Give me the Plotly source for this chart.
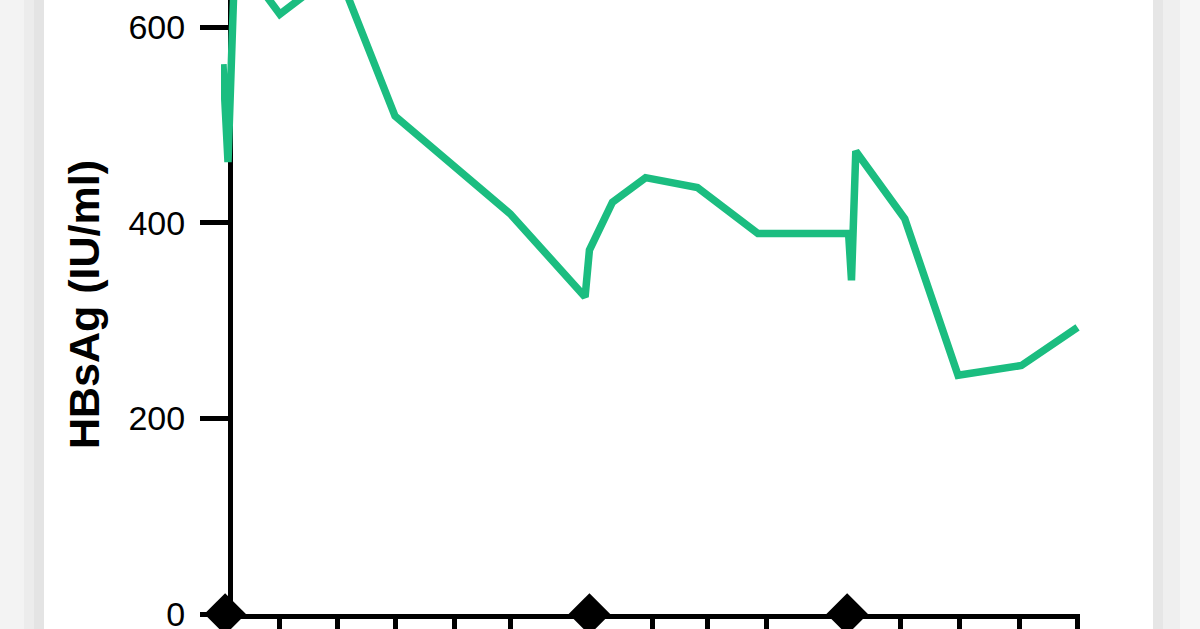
import plotly.graph_objects as go

# --- data (weeks from baseline, HBsAg in IU/ml) ---
weeks = [-0.35, 0.0, 0.49, 3.6, 7.6, 11.6, 19.6, 24.8, 25.1, 26.7, 29.0,
         32.6, 36.8, 43.1, 43.3, 43.6, 47.0, 50.7, 55.1, 59.0]
hbsag = [562, 462, 675, 613, 658, 509, 409, 324, 372, 421, 446,
         436, 389, 389, 341, 473, 404, 244, 254, 293]

# treatment markers on the time axis
dose_weeks = [-0.2, 25.1, 43.0]
dose_level = [0, 0, 0]

tick_weeks = [3.6, 7.6, 11.6, 15.7, 19.6, 29.5, 33.3, 37.4, 46.7, 50.8, 55.0, 59.0]
y_ticks = [0, 200, 400, 600]

W, H = 1200, 629
ML, MR, MT, MB = 221, 120, 0, 15
plot_w = W - ML - MR


def px_to_paper(px):
    return (px - ML) / plot_w


fig = go.Figure()

fig.add_trace(go.Scatter(
    x=weeks, y=hbsag, mode="lines",
    line=dict(color="#1bbd80", width=7.5),
    hoverinfo="skip",
))

fig.add_trace(go.Scatter(
    x=dose_weeks, y=dose_level, mode="markers",
    marker=dict(symbol="diamond", size=32, color="black"),
    cliponaxis=False, hoverinfo="skip",
))

# grey page edges
shapes = []
for x0, x1, col in [(0, 24, "#f3f3f3"), (24, 34, "#ececec"), (34, 44, "#e4e4e4"),
                    (1153, 1163, "#e6e6e6"), (1163, 1180, "#efefef"), (1180, 1200, "#f6f6f6")]:
    shapes.append(dict(type="rect", xref="paper", yref="paper",
                       x0=px_to_paper(x0), x1=px_to_paper(x1), y0=-0.1, y1=1.1,
                       fillcolor=col, line=dict(width=0), layer="below"))

fig.update_layout(
    width=W, height=H,
    margin=dict(l=ML, r=MR, t=MT, b=MB),
    paper_bgcolor="white", plot_bgcolor="white",
    showlegend=False,
    shapes=shapes,
    font=dict(family="Liberation Sans, Arial, sans-serif", color="black"),
    xaxis=dict(
        range=[-0.486, 59.17], automargin=False,
        showgrid=False, zeroline=False,
        showline=True, linecolor="black", linewidth=5,
        ticks="outside", ticklen=20, tickwidth=5, tickcolor="black",
        tickvals=tick_weeks, showticklabels=False,
        layer="below traces",
    ),
    yaxis=dict(
        range=[0, 627.6], automargin=False,
        anchor="free", position=px_to_paper(230),
        showgrid=False, zeroline=False,
        showline=True, linecolor="black", linewidth=5,
        ticks="outside", ticklen=28, tickwidth=5, tickcolor="black",
        tickvals=y_ticks, tickfont=dict(size=34),
        ticklabelstandoff=8, ticklabeloverflow="allow",
        layer="below traces",
    ),
    annotations=[dict(
        text="<b>HBsAg (IU/ml)</b>", textangle=-90,
        xref="paper", yref="paper",
        x=px_to_paper(84), y=(614 - 305) / 614,
        xanchor="center", yanchor="middle", showarrow=False,
        font=dict(size=43, color="black"),
    )],
)

fig.write_html("out.html", config={"displayModeBar": False},
               post_script="document.body.style.margin='0px';")
